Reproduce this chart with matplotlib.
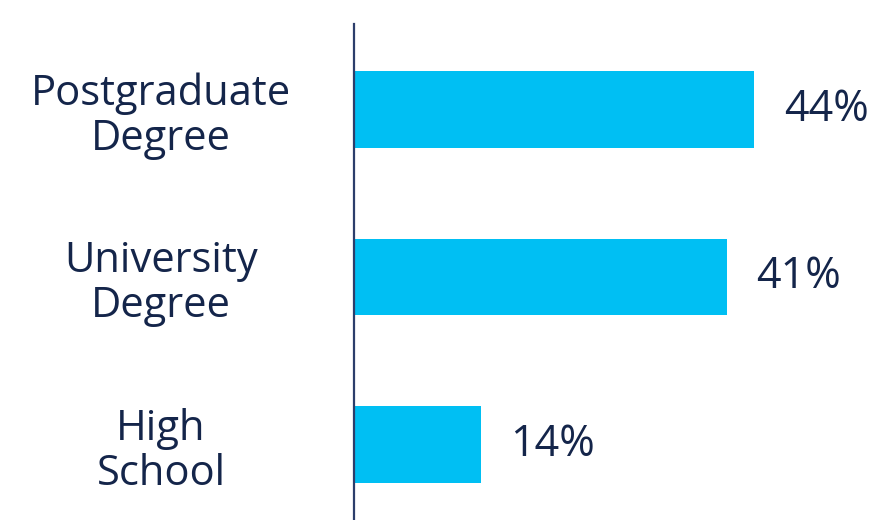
import matplotlib.pyplot as plt

# education levels, bottom to top
categories = ["High\nSchool", "University\nDegree", "Postgraduate\nDegree"]
shares = [14, 41, 44]

bar_color = "#00BFF3"
text_color = "#14254A"
axis_color = "#2C3E6B"

plt.rcParams['font.family'] = ['Open Sans', 'DejaVu Sans']

fig = plt.figure(figsize=(8.81, 5.2), dpi=100)
ax = fig.add_axes([354 / 881, 0, 1 - 354 / 881, 496 / 520])

pos = list(range(len(categories)))
ax.barh(pos, shares, height=0.455, color=bar_color, zorder=1)

for p, v in zip(pos, shares):
    ax.annotate(f"{v}%", xy=(v, p), xytext=(21, 0), textcoords='offset points',
                va='center', ha='left', fontsize=31, color=text_color)

ax.set_xlim(0, 57.9)
ax.set_ylim(-0.45, 2.51)
ax.set_xticks([])
ax.set_yticks(pos)
ax.set_yticklabels(categories, ha='center', fontsize=30, color=text_color,
                   linespacing=1.1)
ax.tick_params(axis='y', length=0, pad=139)

for s in ['top', 'right', 'bottom']:
    ax.spines[s].set_visible(False)
ax.spines['left'].set_color(axis_color)
ax.spines['left'].set_linewidth(1.6)
ax.spines['left'].set_zorder(3)

fig.savefig("out.png", dpi=100)
